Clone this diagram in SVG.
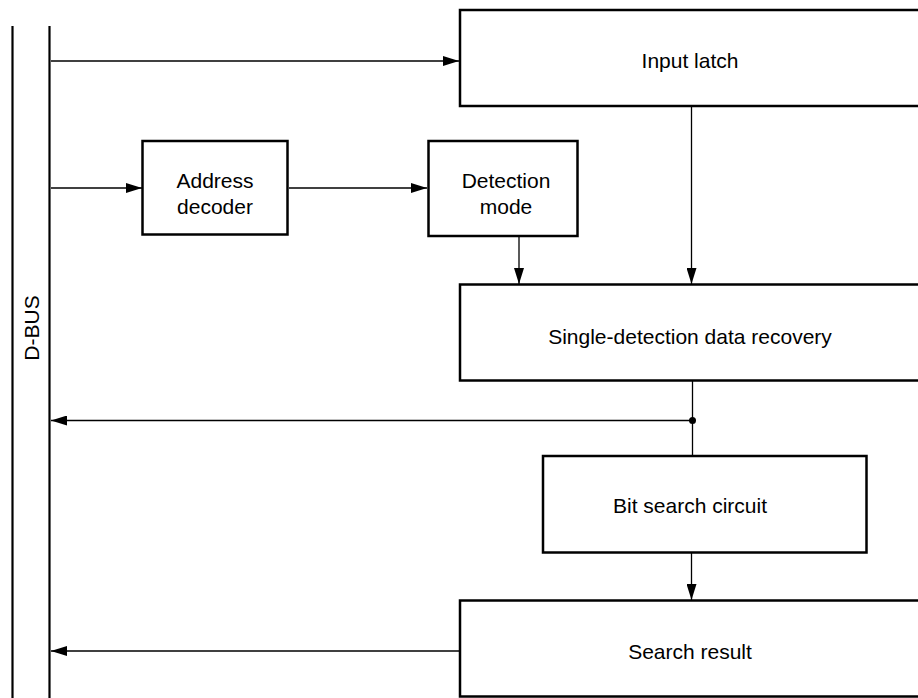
<svg xmlns="http://www.w3.org/2000/svg" width="918" height="698" viewBox="0 0 918 698">
<style>
.box{fill:#fff;stroke:#000;stroke-width:2.5}
.bus{stroke:#000;stroke-width:2.2;fill:none}
.wire{stroke:#000;stroke-width:1.3;fill:none}
.lbl{font-family:"Liberation Sans",Arial,sans-serif;font-size:21px;fill:#000;text-anchor:middle;dominant-baseline:central}
</style>
<defs>
<marker id="ah" viewBox="0 0 16 10" refX="16" refY="5" markerWidth="16" markerHeight="10" markerUnits="userSpaceOnUse" orient="auto">
<path d="M0,0 L16,5 L0,10 Z" fill="#000"/>
</marker>
</defs>
<rect width="918" height="698" fill="#fff"/>
<g id="dbus">
<line class="bus" x1="12.5" y1="26" x2="12.5" y2="698"/>
<line class="bus" x1="49.5" y1="26" x2="49.5" y2="698"/>
<text class="lbl" transform="translate(31,328) rotate(-90)">D-BUS</text>
</g>
<g id="connectors">
<line class="wire" x1="51" y1="61" x2="459" y2="61" marker-end="url(#ah)"/>
<line class="wire" x1="51" y1="188" x2="142" y2="188" marker-end="url(#ah)"/>
<line class="wire" x1="289" y1="188" x2="427" y2="188" marker-end="url(#ah)"/>
<line class="wire" x1="519" y1="237" x2="519" y2="284" marker-end="url(#ah)"/>
<line class="wire" x1="691.5" y1="107" x2="691.5" y2="284" marker-end="url(#ah)"/>
<line class="wire" x1="692.5" y1="381" x2="692.5" y2="456"/>
<line class="wire" x1="692.5" y1="420.5" x2="51" y2="420.5" marker-end="url(#ah)"/>
<circle cx="692.5" cy="420.5" r="3.5" fill="#000"/>
<line class="wire" x1="691.5" y1="553" x2="691.5" y2="600" marker-end="url(#ah)"/>
<line class="wire" x1="460" y1="651" x2="51" y2="651" marker-end="url(#ah)"/>
</g>
<g id="input-latch">
<rect class="box" x="460" y="10" width="462" height="96"/>
<text class="lbl" x="690" y="60">Input latch</text>
</g>
<g id="address-decoder">
<rect class="box" x="142.5" y="141" width="145" height="93.5"/>
<text class="lbl" x="215" y="180">Address</text>
<text class="lbl" x="215" y="206">decoder</text>
</g>
<g id="detection-mode">
<rect class="box" x="428.5" y="141" width="149" height="95"/>
<text class="lbl" x="506" y="180">Detection</text>
<text class="lbl" x="506" y="206">mode</text>
</g>
<g id="single-detection">
<rect class="box" x="460" y="284.5" width="462" height="96"/>
<text class="lbl" x="690" y="336">Single-detection data recovery</text>
</g>
<g id="bit-search">
<rect class="box" x="543" y="456" width="323.5" height="96.5"/>
<text class="lbl" x="690" y="505">Bit search circuit</text>
</g>
<g id="search-result">
<rect class="box" x="460" y="600.5" width="462" height="96"/>
<text class="lbl" x="690" y="651">Search result</text>
</g>
</svg>
